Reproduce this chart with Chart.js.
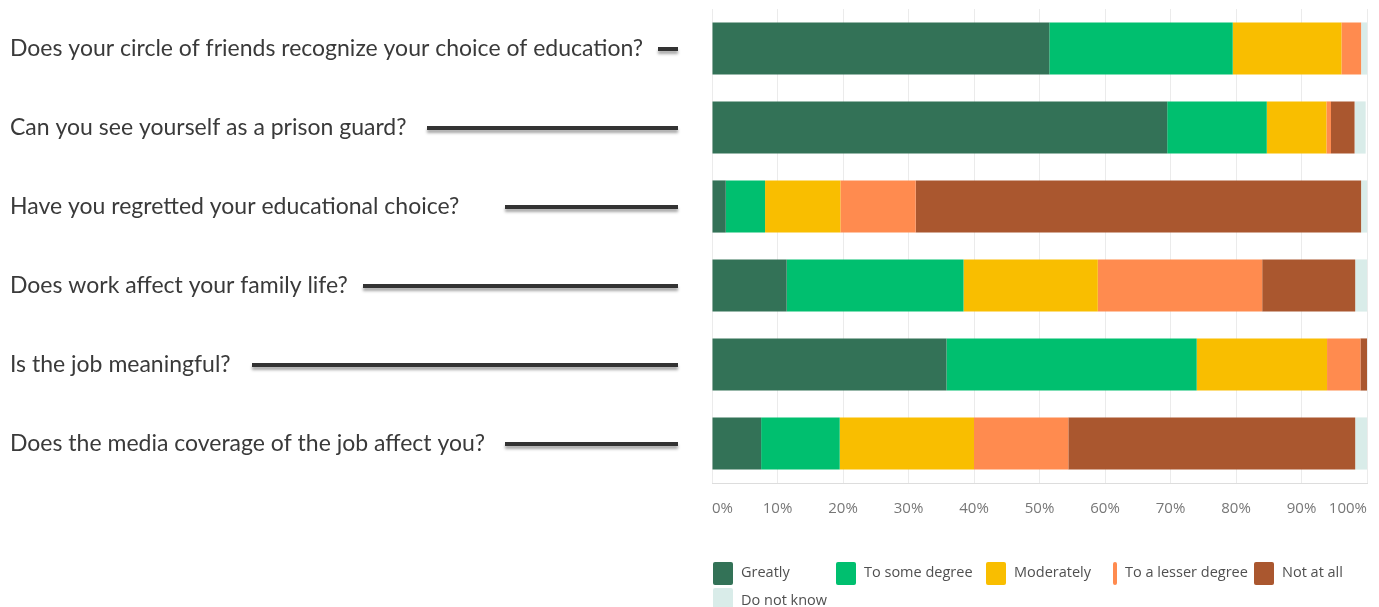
<!DOCTYPE html>
<html lang="en">
<head>
    <meta charset="UTF-8">
    <title>Prison guard education survey</title>
    <style>
        html, body { margin: 0; padding: 0; background: #fff; }
        #wrap { position: relative; width: 1379px; height: 607px; }
    </style>
</head>
<body>
    <div id="wrap">
        <canvas id="surveyChart"></canvas>
    </div>

    <script src="https://cdn.jsdelivr.net/npm/chart.js@4.4.1/dist/chart.umd.min.js"></script>
    <script>
        // questions (one bar each) and the share of answers per response, in %
        var questions = [
            'Does your circle of friends recognize your choice of education?',
            'Can you see yourself as a prison guard?',
            'Have you regretted your educational choice?',
            'Does work affect your family life?',
            'Is the job meaningful?',
            'Does the media coverage of the job affect you?'
        ];
        var responses = ['Greatly', 'To some degree', 'Moderately', 'To a lesser degree', 'Not at all', 'Do not know'];

        var greatly    = [51.5, 69.5,  2.1, 11.4, 35.8,  7.5];
        var someDegree = [28.0, 15.2,  6.0, 27.0, 38.2, 12.0];
        var moderately = [16.6,  9.1, 11.5, 20.5, 19.9, 20.5];
        var lesser     = [ 3.0,  0.7, 11.5, 25.1,  5.1, 14.4];
        var notAtAll   = [ 0.0,  3.6, 68.0, 14.2,  1.0, 43.8];
        var dontKnow   = [ 1.0,  1.7,  1.0,  1.8,  0.0,  1.8];

        var xTicks = [0, 10, 20, 30, 40, 50, 60, 70, 80, 90, 100];

        var colors = ['#337257', '#00bf6f', '#f9be00', '#ff8b4f', '#aa572f', '#d9ece9'];

        // where the pointer line next to each question begins (it always ends at 678)
        var connectorFrom = [658, 427, 505, 363, 252, 505];
        var connectorTo = 678;

        // legend item offsets from the plot's left edge, and box widths
        var legendX = [0, 123, 273, 400, 541, 0];
        var legendRow = [0, 0, 0, 0, 0, 1];
        var legendBoxW = [20, 20, 20, 4, 20, 20];

        var series = [greatly, someDegree, moderately, lesser, notAtAll, dontKnow];
        var datasets = series.map(function(values, i) {
            return {
                label: responses[i],
                data: values,
                backgroundColor: colors[i],
                borderWidth: 0,
                categoryPercentage: 1,
                barPercentage: 0.66
            };
        });

        var connectors = {
            id: 'connectors',
            afterDraw: function(chart) {
                var ctx = chart.ctx;
                var y = chart.scales.y;
                ctx.save();
                ctx.strokeStyle = '#333333';
                ctx.lineWidth = 4;
                ctx.shadowColor = 'rgba(0,0,0,0.35)';
                ctx.shadowBlur = 3;
                ctx.shadowOffsetY = 3;
                questions.forEach(function(q, i) {
                    var py = Math.round(y.getPixelForValue(i));
                    ctx.beginPath();
                    ctx.moveTo(connectorFrom[i], py);
                    ctx.lineTo(connectorTo, py);
                    ctx.stroke();
                });
                ctx.restore();
            }
        };

        var boxLegend = {
            id: 'boxLegend',
            afterDraw: function(chart) {
                var ctx = chart.ctx;
                var left = chart.chartArea.left + 1;
                ctx.save();
                ctx.font = '14.5px "Open Sans"';
                ctx.textBaseline = 'middle';
                chart.data.datasets.forEach(function(ds, i) {
                    var x = left + legendX[i];
                    var top = 562 + legendRow[i] * 26;
                    ctx.fillStyle = ds.backgroundColor;
                    ctx.beginPath();
                    ctx.roundRect(x, top, legendBoxW[i], 23, 2);
                    ctx.fill();
                    ctx.fillStyle = '#505050';
                    ctx.fillText(ds.label, x + legendBoxW[i] + 8, top + 11 + legendRow[i] * 2);
                });
                ctx.restore();
            }
        };

        new Chart(document.getElementById('surveyChart'), {
            type: 'bar',
            data: { labels: questions, datasets: datasets },
            plugins: [connectors, boxLegend],
            options: {
                indexAxis: 'y',
                responsive: true,
                maintainAspectRatio: false,
                animation: false,
                devicePixelRatio: 1,
                layout: { padding: { left: 10, right: 12, top: 9, bottom: 0 } },
                plugins: {
                    legend: { display: false },
                    tooltip: { enabled: false }
                },
                scales: {
                    x: {
                        stacked: true,
                        min: 0,
                        max: 100,
                        afterBuildTicks: function(scale) {
                            scale.ticks = xTicks.map(function(v) { return { value: v }; });
                        },
                        afterFit: function(scale) {
                            scale.height = 124;
                            scale.paddingLeft = 0;
                            scale.paddingRight = 0;
                        },
                        grid: { color: '#ebebeb', drawTicks: false },
                        border: { color: '#dddddd' },
                        ticks: {
                            align: 'inner',
                            padding: 17,
                            color: '#777777',
                            font: { family: '"Open Sans"', size: 15 },
                            callback: function(v) { return v + '%'; }
                        }
                    },
                    y: {
                        stacked: true,
                        afterFit: function(scale) {
                            scale.width = 702;
                            scale.paddingTop = 0;
                            scale.paddingBottom = 0;
                        },
                        grid: { display: false },
                        border: { display: false },
                        ticks: {
                            crossAlign: 'far',
                            color: '#3a3a3a',
                            font: { family: 'Lato', size: 23 }
                        }
                    }
                }
            }
        });
    </script>
</body>
</html>
